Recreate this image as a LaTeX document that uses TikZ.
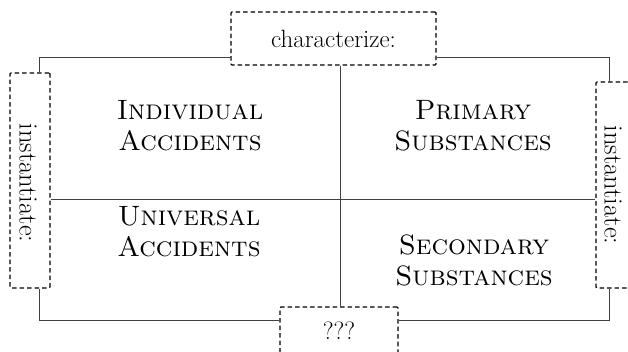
\documentclass[tikz,border=0pt]{standalone}
\begin{document}
\begin{tikzpicture}[x=1pt,y=-1pt,
  dbox/.style={draw=black,line width=1.1pt,dash pattern=on 4.5pt off 3pt,rounded corners=1pt,inner sep=0pt},
  conn/.style={draw=black!75,line width=0.8pt},
  lbl/.style={font=\fontsize{25}{28}\selectfont},
  vlbl/.style={font=\fontsize{26.5}{28}\selectfont,rotate=-90},
  quad/.style={font=\fontsize{28}{31}\selectfont\scshape,align=center}]
\useasboundingbox (0,0) rectangle (628,351);
\clip (0,0) rectangle (628,351);
\node[dbox,lbl,minimum width=205pt,minimum height=53pt] (char) at (333.5,38.5) {characterize:};
\node[dbox,minimum width=40pt,minimum height=215pt] (instL) at (30,180.5) {};
\node[vlbl] (instLt) at (28,183) {instantiate:};
\node[dbox,minimum width=40pt,minimum height=206pt] (instR) at (616,185) {};
\node[vlbl] (instRt) at (613,185) {instantiate:};
\node[dbox,minimum width=118pt,minimum height=53pt] (qqq) at (339,333.5) {};
\node[lbl] (qqqt) at (339,331) {???};
\coordinate (tl) at (39,57);
\coordinate (tr) at (609,57);
\coordinate (bl) at (39,320);
\coordinate (br) at (609,320);
\coordinate (vx) at (340,0);
\coordinate (hy) at (0,199);
\draw[conn] (char.west |- tl) -| (tl |- instL.north);
\draw[conn] (char.east |- tr) -| (tr |- instR.north);
\draw[conn] (vx |- char.south) -- (vx |- qqq.north);
\draw[conn] (instL.east |- hy) -- (instR.west |- hy);
\draw[conn] (bl |- instL.south) |- (qqq.west |- bl);
\draw[conn] (br |- instR.south) |- (qqq.east |- br);
\node[quad] (ia) at (190,126) {Individual\\Accidents};
\node[quad] (ps) at (473,126) {Primary\\Substances};
\node[quad] (ua) at (189,232) {Universal\\Accidents};
\node[quad] (ss) at (474,260) {Secondary\\Substances};
\end{tikzpicture}
\end{document}
